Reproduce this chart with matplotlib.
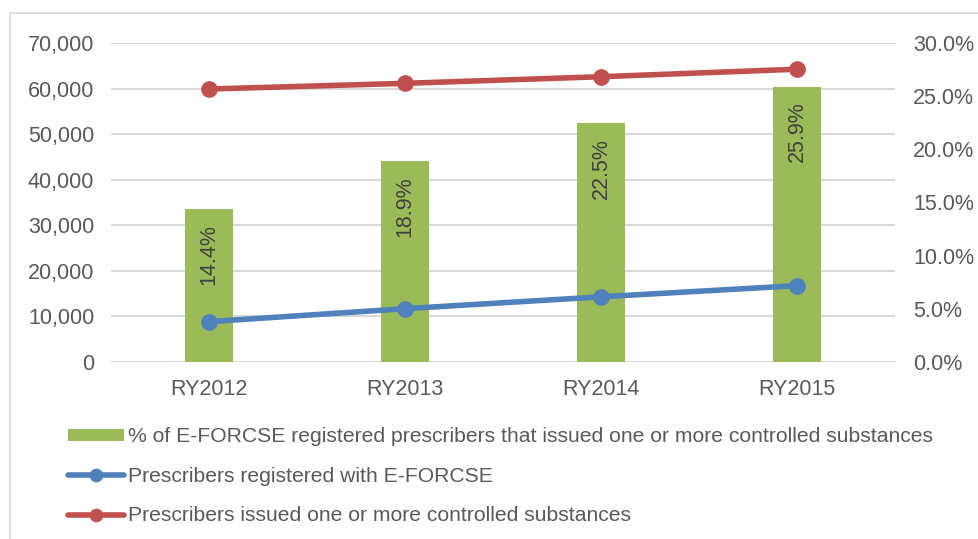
import matplotlib as mpl
mpl.use('Agg')
import matplotlib.pyplot as plt
from matplotlib.patches import Rectangle
from matplotlib.ticker import FuncFormatter

years = ["RY2012", "RY2013", "RY2014", "RY2015"]
pct_issued = [14.4, 18.9, 22.5, 25.9]
registered = [8850, 11700, 14300, 16750]
issued_cs = [59900, 61150, 62600, 64250]

green = "#9bbb59"
blue = "#4f81bd"
red = "#c0504d"
grid_c = "#d9d9d9"
txt_c = "#595959"
fs = 15.5

plt.rcParams['font.family'] = ['Liberation Sans', 'DejaVu Sans']

fig = plt.figure(figsize=(9.79, 5.39), dpi=100)
# outer chart frame (only top and left edges fall inside the image)
fig.patches.append(Rectangle((10 / 979, -0.1), 1.2, 1 - 13 / 539 + 0.1,
                             transform=fig.transFigure, fill=False,
                             edgecolor=grid_c, linewidth=1.2))

ax = fig.add_axes([111 / 979, 1 - 362 / 539, 784 / 979, 319 / 539])
ax2 = ax.twinx()
x = range(len(years))

# bars go on the percentage axis
bars = ax2.bar(x, pct_issued, width=0.24, color=green, zorder=1,
               label="% of E-FORCSE registered prescribers that issued one or more controlled substances")
for xi, v in zip(x, pct_issued):
    ax2.text(xi, v - 1.4, "%.1f%%" % v, rotation=90, ha='center', va='top',
             fontsize=fs, color="#404040")
ax2.set_ylim(0, 30)
ax2.set_yticks([0, 5, 10, 15, 20, 25, 30])
ax2.yaxis.set_major_formatter(FuncFormatter(lambda v, p: "%.1f%%" % v))

# lines on the count axis, drawn over the bars
ax.set_zorder(ax2.get_zorder() + 1)
ax.patch.set_visible(False)
ln1, = ax.plot(x, registered, color=blue, lw=4, marker='o', ms=11,
               solid_capstyle='round', label="Prescribers registered with E-FORCSE")
ln2, = ax.plot(x, issued_cs, color=red, lw=4, marker='o', ms=11,
               solid_capstyle='round', label="Prescribers issued one or more controlled substances")
ax.set_ylim(0, 70000)
ax.set_yticks(range(0, 70001, 10000))
ax.yaxis.set_major_formatter(FuncFormatter(lambda v, p: "{:,.0f}".format(v)))
ax.set_xlim(-0.5, 3.5)
ax.set_xticks(list(x))
ax.set_xticklabels(years)

# gridlines drawn on the back axis so they sit behind the bars
for g in range(0, 70001, 10000):
    ax2.axhline(g * 30 / 70000, color=grid_c, lw=1.5, zorder=0)

for a in (ax, ax2):
    for s in a.spines.values():
        s.set_visible(False)
    a.tick_params(length=0, labelsize=fs, colors=txt_c)
ax.tick_params(axis='y', pad=12)
ax2.tick_params(axis='y', pad=13)
ax.tick_params(axis='x', pad=12)

fig.legend(handles=[bars, ln1, ln2], loc='upper left',
           bbox_to_anchor=(60 / 979, 1 - 419 / 539), frameon=False,
           fontsize=15.2, labelcolor=txt_c, handlelength=2.65, handleheight=0.5,
           handletextpad=0.15, labelspacing=0.97, borderaxespad=0,
           markerscale=0.8)

fig.savefig("out.png", dpi=100)
